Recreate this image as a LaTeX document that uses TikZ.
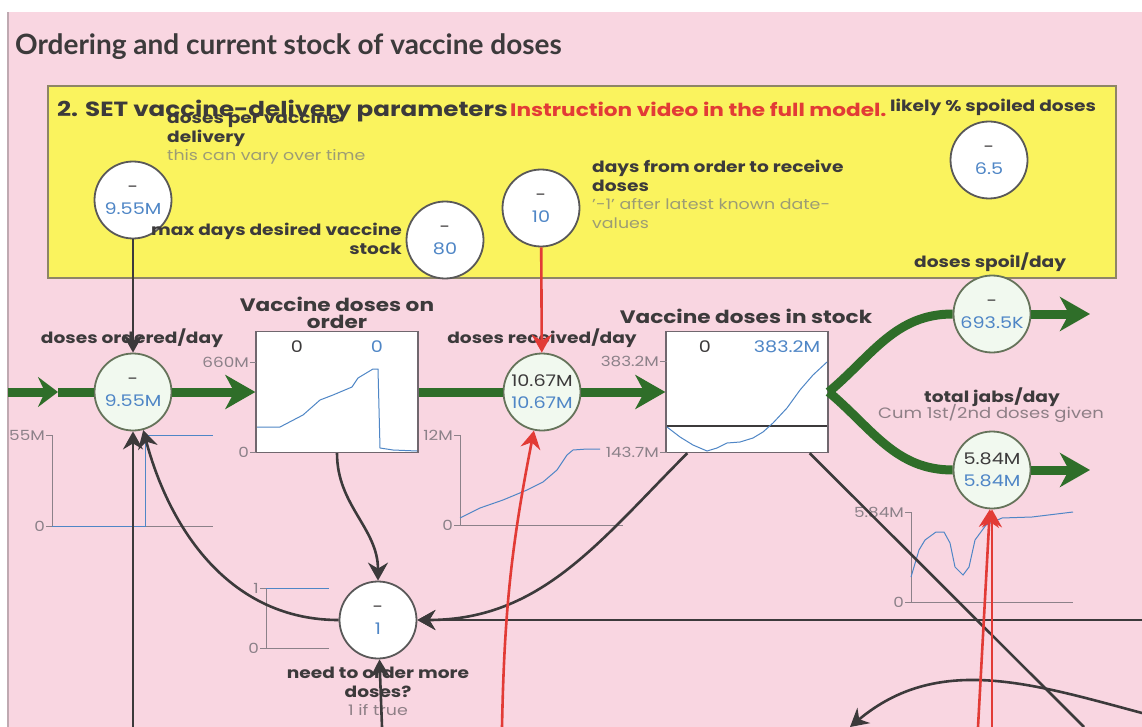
\documentclass[tikz,border=0pt]{standalone}
\usepackage{fontspec}
\setmainfont{Poppins}[FakeStretch=1.2]
\newfontfamily\headfont{Lato}
\usetikzlibrary{arrows.meta}
\definecolor{panelpink}{HTML}{F9D6E1}
\definecolor{paneledge}{HTML}{BFA9B1}
\definecolor{paramyellow}{HTML}{FAF35E}
\definecolor{paramedge}{HTML}{8E8566}
\definecolor{pipegreen}{HTML}{2F6E29}
\definecolor{valblue}{HTML}{4F86C6}
\definecolor{inkgray}{HTML}{3C3A3B}
\definecolor{notegray}{HTML}{9C9C74}
\definecolor{notepink}{HTML}{8E7F86}
\definecolor{axisgray}{HTML}{8C8189}
\definecolor{linkred}{HTML}{E23B36}
\definecolor{flowfill}{HTML}{F1F9EF}
\definecolor{flowedge}{HTML}{65735A}
\newcommand{\pipewidth}{9pt}
\newcommand{\linkwidth}{2.6pt}
\newcommand{\lblfont}{\fontsize{15.5}{18.5}\selectfont\bfseries}
\newcommand{\notefont}{\fontsize{14.5}{18.5}\selectfont\mdseries}
\newcommand{\valfont}{\fontsize{16}{22}\selectfont}
\newcommand{\tickfont}{\fontsize{14}{16}\selectfont}
\newcommand{\cval}[2]{#1\\\textcolor{valblue}{#2}}

\begin{document}
\begin{tikzpicture}[x=1pt,y=1pt,
  aux/.style={circle,draw=inkgray!85,line width=1.8pt,fill=white,minimum size=77pt,inner sep=0pt,align=center,font=\valfont,text=inkgray},
  flowv/.style={aux,draw=flowedge,fill=flowfill},
  stock/.style={draw=axisgray!80!black,line width=1.3pt,fill=white,minimum width=162pt,minimum height=121pt,inner sep=0pt},
  lbl/.style={inner sep=0pt,font=\lblfont,text=inkgray},
  pipe/.style={color=pipegreen,line width=\pipewidth},
  flowtip/.style={-{Stealth[length=30pt,width=34pt,inset=9pt]}},
  tailtip/.style={-{Stealth[length=20pt,width=30pt,inset=7pt]}},
  link/.style={color=inkgray,line width=\linkwidth},
  conn/.style={link,-{Stealth[length=18pt,width=20pt,inset=6pt]}},
  infl/.style={conn,color=linkred},
  axisl/.style={draw=axisgray,line width=1pt},
  plotl/.style={draw=valblue,line width=1pt},
  ticklbl/.style={inner sep=1pt,anchor=east,font=\tickfont,text=axisgray}]
\useasboundingbox (0,0) rectangle (1142,-727);
\fill[white] (0,0) rectangle (1142,-727);
\fill[panelpink] (8,-12) rectangle (1142,-727);
\draw[paneledge,line width=1.2pt] (8,-727) -- (8,-12);

% title and parameter box
\node[anchor=base west,inner sep=0pt,font=\headfont\fontsize{28}{32}\selectfont\bfseries,text=inkgray] (title) at (15,-55) {Ordering and current stock of vaccine doses};
\node[draw=paramedge,line width=1.6pt,fill=paramyellow,anchor=north west,minimum width=1068pt,minimum height=192pt,inner sep=0pt] (params) at (47,-85) {};
\node[lbl,anchor=base west,font=\fontsize{20.5}{24}\selectfont\bfseries] (setlbl) at (57,-117) {2. SET vaccine-delivery parameters};
\node[lbl,anchor=base west,font=\fontsize{18}{20}\selectfont\bfseries,text=linkred] (videolbl) at (510,-117) {Instruction video in the full model.};
\node[lbl,anchor=base west,font=\fontsize{15.5}{18}\selectfont\bfseries] (spoilpctlbl) at (890,-112) {likely \% spoiled doses};

% parameters
\node[aux] (delivery) at (133,-200) {\cval{-}{9.55M}};
\node[aux] (maxdays) at (445,-240) {\cval{-}{80}};
\node[aux] (delay) at (541,-208) {\cval{-}{10}};
\node[aux] (spoilpct) at (989,-160) {\cval{-}{6.5}};
\node[lbl,anchor=north west,align=left] (deliverylbl) at (167,-111) {doses per vaccine\\delivery\\{\notefont\textcolor{notegray}{this can vary over time}}};
\node[lbl,anchor=north east,align=right] (maxdayslbl) at (402,-223) {max days desired vaccine\\stock};
\node[lbl,anchor=north west,align=left] (delaylbl) at (592,-160) {days from order to receive\\doses\\{\notefont\textcolor{notegray}{'-1' after latest known date-}}\\{\notefont\textcolor{notegray}{values}}};
\node[lbl,anchor=base west] (spoillbl) at (914,-267) {doses spoil/day};

% flows and stocks
\node[flowv] (ordered) at (133,-392) {\cval{-}{9.55M}};
\node[stock] (onorder) at (337,-392) {};
\node[flowv] (received) at (542,-392) {\cval{10.67M}{10.67M}};
\node[stock] (instock) at (747,-392) {};
\node[flowv] (spoiled) at (992,-314) {\cval{-}{693.5K}};
\node[flowv] (jabs) at (992,-470) {\cval{5.84M}{5.84M}};
\node[aux] (need) at (378,-620) {\cval{-}{1}};
\node[lbl,anchor=base] (orderedlbl) at (132,-343) {doses ordered/day};
\node[lbl,anchor=base] (receivedlbl) at (542,-343) {doses received/day};
\node[lbl,anchor=south,align=center,font=\fontsize{18}{17}\selectfont\bfseries] (onorderlbl) at (337,-329) {Vaccine doses on\\order};
\node[lbl,anchor=base,font=\fontsize{18}{20}\selectfont\bfseries] (instocklbl) at (746,-323) {Vaccine doses in stock};
\node[lbl,anchor=base] (jabslbl) at (992,-402) {total jabs/day};
\node[lbl,anchor=base,font=\fontsize{15}{18}\selectfont,text=notepink] (jabsnote) at (991,-418) {Cum 1st/2nd doses given};
\node[lbl,anchor=north,align=center] (needlbl) at (378,-667) {need to order more\\doses?\\{\notefont\textcolor{notepink}{1 if true}}};
\node[lbl,font=\valfont] (onorderA) at (297,-347) {0};
\node[lbl,font=\valfont,text=valblue] (onorderB) at (377,-347) {0};
\node[lbl,font=\valfont] (instockA) at (705,-347) {0};
\node[lbl,font=\valfont,text=valblue] (instockB) at (787,-347) {383.2M};

% graphs
\draw[axisl] (250,-362) -- (256,-362) (250,-452) -- (256,-452);
\node[ticklbl] (onordertop) at (250,-362) {660M};
\node[ticklbl] (onorderbot) at (250,-452) {0};
\draw[plotl] (257,-427) -- (280,-427) -- (303,-415) -- (320,-400) -- (333,-395) -- (352,-387) -- (358,-378) -- (373,-369) -- (378,-369) -- (380,-448) -- (393,-450) -- (417,-451);
\draw[axisl] (660,-361) -- (667,-361) (660,-452) -- (667,-452);
\node[ticklbl] (instocktop) at (660,-361) {383.2M};
\node[ticklbl] (instockbot) at (660,-452) {143.7M};
\draw[inkgray,line width=1.2pt] (667,-426) -- (827,-426);
\draw[plotl] (667,-427) -- (680,-437) -- (693,-445) -- (707,-451) -- (717,-448) -- (727,-443) -- (740,-442) -- (753,-438) -- (763,-432) -- (773,-423) -- (787,-408) -- (800,-390) -- (813,-375) -- (827,-362);
\draw[axisl] (46,-435) -- (52,-435) -- (52,-526) -- (213,-526) (46,-526) -- (52,-526);
\node[ticklbl] (orderedtop) at (46,-435) {55M};
\node[ticklbl] (orderedbot) at (46,-526) {0};
\draw[plotl] (52,-526) -- (145,-526) -- (145,-435) -- (213,-435);
\draw[axisl] (454,-435) -- (460,-435) -- (460,-525) -- (623,-525) (454,-525) -- (460,-525);
\node[ticklbl] (receivedtop) at (454,-435) {12M};
\node[ticklbl] (receivedbot) at (454,-525) {0};
\draw[plotl] (460,-518) -- (480,-508) -- (503,-500) -- (527,-490) -- (543,-482) -- (557,-470) -- (567,-455) -- (573,-450) -- (587,-449) -- (600,-449);
\draw[axisl] (905,-512) -- (911,-512) -- (911,-602) -- (1073,-602) (905,-602) -- (911,-602);
\node[ticklbl] (jabstop) at (905,-512) {5.84M};
\node[ticklbl] (jabsbot) at (905,-602) {0};
\draw[plotl] (911,-577) -- (919,-550) -- (925,-540) -- (936,-532) -- (944,-532) -- (950,-543) -- (955,-567) -- (963,-575) -- (969,-567) -- (975,-540) -- (986,-525) -- (1002,-518) -- (1032,-517) -- (1073,-512);
\draw[axisl] (260,-588) -- (266,-588) -- (266,-648) -- (329,-648) (260,-648) -- (266,-648);
\node[ticklbl] (needtop) at (260,-588) {1};
\node[ticklbl] (needbot) at (260,-648) {0};
\draw[plotl] (266,-588) -- (329,-588);

% material flow
\coordinate (srcL) at (8,-392);
\coordinate (srcT) at (58,-392);
\coordinate (spoilSink) at (1090,-314);
\coordinate (jabsSink) at (1090,-470);
\draw[pipe,tailtip] (srcL) -- (srcT);
\draw[pipe] (srcT) -- (ordered);
\draw[pipe,flowtip] (ordered) -- (onorder);
\draw[pipe] (onorder) -- (received);
\draw[pipe,flowtip] (received) -- (instock);
\draw[pipe] (instock.east) to[out=40,in=180] (spoiled);
\draw[pipe] (instock.east) to[out=-40,in=180] (jabs);
\draw[pipe,flowtip] (spoiled) -- (spoilSink);
\draw[pipe,flowtip] (jabs) -- (jabsSink);

% links
\coordinate (baseA) at (133,-727);
\coordinate (baseB) at (382,-727);
\coordinate (baseC) at (502,-727);
\coordinate (baseD) at (1084,-727);
\coordinate (baseE) at (978,-727);
\coordinate (baseF) at (992,-727);
\coordinate (edgeR) at (1142,-620);
\coordinate (arcR) at (1142,-713);
\coordinate (arcL) at (850,-727);
\draw[conn] (delivery) -- (ordered);
\draw[conn] (baseA) -- (ordered);
\draw[conn] (need) to[out=180,in=-75] (ordered);
\draw[conn] (onorder) to[out=-90,in=90] (need);
\draw[conn] ([xshift=22pt]instock.south west) to[out=-135,in=0] (need);
\draw[conn] (edgeR) -- (need);
\draw[conn] (baseB) -- (need);
\draw[link] ([xshift=-19pt]instock.south east) -- (baseD);
\draw[conn] (arcR) to[out=165,in=40] (arcL);
\draw[infl] (delay) -- (received);
\draw[infl] (baseC) to[bend left=5] (received);
\draw[infl] (baseE) -- (jabs);
\draw[infl] (baseF) -- (jabs);
\end{tikzpicture}
\end{document}
